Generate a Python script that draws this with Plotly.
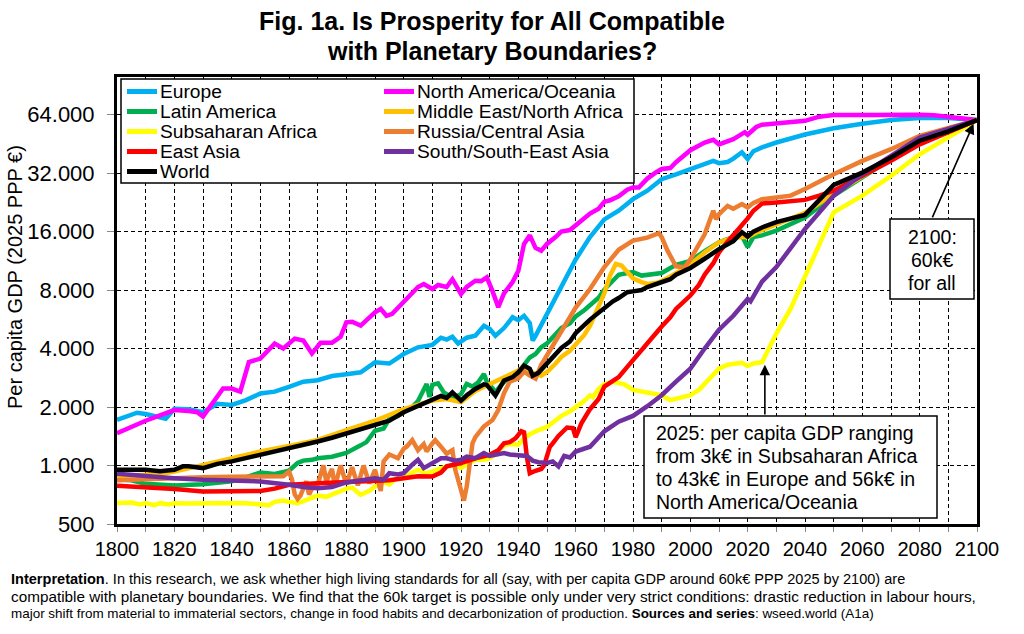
import math
import plotly.graph_objects as go

# ---------------- DATA ----------------
EU_Y = [1800,1805,1807,1810,1814,1817,1820,1825,1830,1835,1840,1845,1850,1855,1860,1865,1870,1875,1880,1885,1890,1895,1900,1905,1910,1913,1915,1917,1919,1920,1922,1925,1928,1930,1932,1935,1938,1940,1942,1944,1945,1946,1948,1950,1955,1960,1965,1970,1975,1980,1985,1990,1995,2000,2005,2008,2010,2013,2015,2018,2020,2022,2025,2030,2040,2050,2060,2070,2080,2090,2100]
EU_V = [1715,1830,1870,1840,1780,1740,1960,1950,1880,2080,2050,2170,2350,2400,2540,2700,2750,2890,2950,3020,3400,3350,3750,4060,4180,4550,4450,4600,4250,4350,4550,4660,5240,5050,4660,5100,5800,5600,5900,5400,4400,4650,5300,6100,8400,11500,15000,18500,20500,23500,26000,29800,31500,33600,35500,37000,36000,36500,38000,41000,37800,41500,43400,46000,50600,54500,57500,60000,61500,61500,60000]

NA_Y = [1800,1805,1810,1815,1820,1825,1828,1830,1833,1837,1840,1843,1846,1850,1855,1858,1862,1865,1868,1871,1875,1878,1880,1882,1885,1887,1890,1892,1894,1896,1900,1903,1905,1907,1910,1912,1915,1917,1919,1920,1922,1925,1927,1929,1931,1933,1935,1938,1940,1942,1944,1946,1948,1950,1953,1955,1958,1960,1963,1965,1968,1970,1972,1975,1978,1980,1982,1985,1988,1990,1993,1995,2000,2005,2008,2010,2015,2019,2020,2023,2025,2030,2040,2045,2050,2060,2070,2080,2085,2090,2100]
NA_V = [1465,1580,1700,1810,1930,1910,1880,1785,2050,2490,2490,2400,3410,3550,4240,4000,4500,4400,3770,4280,4280,4600,5460,5500,5250,5600,6150,6400,5900,6040,7000,7800,8300,8600,8100,8500,8300,9100,8200,7640,8300,8940,8900,9300,7900,6530,7700,8800,10070,13830,15300,13200,12750,13830,15000,16000,16300,17200,18800,19800,21000,22800,23200,24300,26300,27000,27000,30000,32300,33600,34000,36400,42000,46000,47500,45000,47900,52000,50500,55300,56800,57500,59500,62500,63700,63700,64000,64000,63500,62500,60000]

LA_Y = [1800,1805,1810,1820,1830,1840,1845,1850,1855,1860,1863,1865,1868,1870,1875,1880,1885,1887,1890,1893,1895,1898,1900,1903,1905,1907,1908,1909,1910,1912,1914,1916,1918,1920,1922,1924,1926,1928,1929,1931,1932,1934,1936,1938,1940,1942,1944,1946,1948,1950,1953,1955,1958,1960,1963,1965,1968,1970,1973,1975,1978,1980,1983,1985,1990,1995,2000,2005,2010,2015,2018,2020,2022,2025,2030,2040,2050,2060,2070,2080,2090,2100]
LA_V = [850,840,805,790,800,830,870,920,905,940,1030,1060,1070,1090,1110,1160,1270,1320,1510,1550,1740,1800,1880,2000,2150,2480,2630,2250,2600,2650,2380,2280,2250,2330,2630,2550,2680,2960,2700,2500,2380,2600,2800,2960,3020,3330,3600,3750,4060,4250,4700,5100,5400,5850,6300,6700,7300,8050,8900,9600,9800,9900,9500,9600,9800,10800,11300,12700,14100,15000,15200,13300,15000,15300,16200,18900,24500,30400,37800,46000,52500,60000]

ME_Y = [1800,1810,1815,1820,1830,1840,1850,1860,1870,1880,1890,1900,1910,1915,1920,1925,1930,1935,1940,1942,1945,1948,1950,1953,1955,1958,1960,1963,1965,1968,1970,1972,1974,1976,1978,1980,1983,1985,1988,1990,1993,1995,2000,2005,2010,2015,2020,2025,2030,2040,2050,2060,2070,2080,2090,2100]
ME_V = [880,890,905,930,1010,1090,1180,1260,1355,1520,1700,1950,2160,2200,2120,2420,2630,2850,3080,3250,3000,2900,3030,3350,3620,3900,4200,4700,5250,6500,7700,9500,10900,10700,10000,9200,8800,8600,8700,8900,9400,9800,10800,12500,14100,14900,15000,16300,17400,20000,25000,31000,38000,46500,52500,60000]

SSA_Y = [1800,1805,1808,1810,1813,1815,1818,1820,1825,1830,1835,1840,1845,1850,1853,1855,1858,1860,1863,1865,1867,1870,1873,1875,1878,1880,1882,1885,1888,1890,1893,1895,1897,1900,1903,1905,1908,1910,1913,1915,1918,1920,1922,1925,1928,1930,1932,1935,1937,1940,1942,1944,1947,1950,1955,1958,1960,1963,1965,1966,1968,1970,1973,1975,1977,1980,1983,1985,1990,1993,1995,2000,2003,2005,2008,2010,2013,2015,2018,2020,2022,2025,2030,2035,2040,2045,2050,2060,2070,2080,2090,2100]
SSA_V = [641,645,630,640,625,640,630,640,638,642,640,642,640,630,625,650,660,650,640,655,670,700,690,710,740,760,770,707,740,780,820,800,850,860,920,950,910,930,960,990,1000,970,1010,1070,1070,1090,1140,1270,1290,1280,1380,1450,1520,1580,1800,1900,2000,2150,2300,2250,2480,2620,2700,2650,2620,2450,2400,2350,2300,2170,2200,2300,2450,2640,2900,3150,3300,3350,3380,3250,3350,3400,4780,6420,9330,13800,20100,24500,31000,40000,48800,60000]

RU_Y = [1800,1810,1820,1830,1840,1850,1858,1860,1861,1862,1863,1864,1866,1867,1868,1870,1872,1873,1875,1876,1878,1880,1882,1884,1886,1888,1890,1892,1893,1895,1898,1900,1901,1903,1905,1907,1908,1910,1911,1913,1915,1917,1918,1920,1921,1922,1924,1925,1928,1931,1933,1935,1937,1940,1942,1944,1946,1948,1950,1955,1960,1965,1970,1975,1980,1985,1989,1990,1992,1995,1998,2000,2003,2005,2008,2009,2010,2013,2015,2018,2020,2022,2025,2030,2035,2040,2050,2060,2070,2080,2090,2100]
RU_V = [840,850,870,870,875,880,880,930,850,710,673,700,830,710,760,800,1000,830,960,780,1000,800,980,790,1000,810,950,740,1050,1140,1090,1220,1250,1350,1200,1290,1180,1300,1350,1250,1150,1200,950,750,660,780,1300,1400,1590,1715,1930,2360,2700,2810,3050,2900,2800,3300,3700,5000,6500,8100,10500,12900,14400,14900,15700,15000,12800,10600,10500,11500,13800,15500,20500,18500,19700,21700,21000,22200,21300,22500,23500,23900,24500,26500,31600,37000,42500,49800,54600,60000]

EA_Y = [1800,1810,1820,1830,1840,1850,1855,1860,1870,1875,1880,1885,1890,1895,1900,1905,1910,1913,1915,1918,1920,1925,1930,1933,1935,1937,1939,1941,1942,1943,1944,1946,1948,1949,1951,1952,1954,1957,1959,1960,1962,1965,1968,1970,1973,1975,1978,1980,1983,1985,1988,1990,1993,1995,1997,2000,2003,2005,2008,2010,2013,2015,2018,2020,2022,2025,2030,2040,2045,2050,2060,2070,2080,2090,2100]
EA_V = [787,775,757,736,736,740,760,796,810,815,825,820,825,840,860,880,877,920,990,1010,1030,1090,1135,1200,1300,1320,1380,1500,1480,1100,913,940,960,1000,1250,1300,1420,1570,1560,1400,1650,1950,2200,2550,2750,2850,3220,3500,3920,4300,4800,5200,5800,6400,6800,7500,8500,9600,11000,12500,14200,15300,17300,18700,20500,22300,22600,23300,24500,26000,31000,37000,45000,52000,60000]

SA_Y = [1800,1810,1820,1830,1840,1850,1860,1865,1870,1875,1880,1885,1890,1893,1895,1898,1900,1903,1905,1907,1910,1913,1915,1918,1920,1922,1925,1928,1930,1933,1935,1937,1940,1943,1945,1947,1950,1952,1954,1956,1958,1960,1965,1970,1975,1980,1985,1990,1995,2000,2005,2010,2015,2018,2020,2021,2025,2030,2040,2050,2060,2070,2080,2090,2100]
SA_V = [906,880,860,844,838,828,796,775,765,775,818,835,860,845,913,900,913,1010,1070,970,1030,1090,1090,1060,1070,1110,1090,1160,1120,1140,1160,1140,1130,1120,1060,1040,1030,1050,990,1120,1100,1180,1250,1500,1680,1800,2020,2300,2700,3150,4000,5000,5900,6700,7200,7000,8850,10500,16500,24500,31600,39300,48800,54000,60000]

WO_Y = [1800,1805,1810,1815,1820,1823,1825,1830,1835,1840,1845,1850,1855,1860,1865,1870,1875,1880,1885,1890,1895,1900,1905,1910,1913,1915,1917,1920,1922,1925,1928,1929,1932,1935,1938,1940,1942,1944,1945,1947,1950,1953,1955,1958,1960,1965,1970,1973,1975,1978,1980,1983,1985,1988,1990,1993,1995,2000,2005,2008,2010,2015,2018,2020,2022,2025,2030,2040,2045,2050,2060,2070,2080,2090,2100]
WO_V = [950,955,950,935,950,990,990,970,1020,1050,1090,1135,1180,1230,1280,1330,1390,1460,1520,1605,1700,1880,2030,2200,2280,2230,2380,2160,2300,2480,2620,2600,2290,2740,2850,3020,3270,3150,2900,3000,3350,3700,4030,4350,4800,5640,6500,7000,7280,7800,7880,8000,8290,8600,8800,9100,9600,10400,11600,12500,13000,14300,15900,15100,16000,16800,17900,19500,23300,27800,32200,38500,47000,52500,60000]

SERIES_NAMES = ["Europe", "North America/Oceania", "Latin America", "Middle East/North Africa",
                "Subsaharan Africa", "Russia/Central Asia", "East Asia", "South/South-East Asia", "World"]
SERIES_DATA = [(EU_Y, EU_V), (NA_Y, NA_V), (LA_Y, LA_V), (ME_Y, ME_V), (SSA_Y, SSA_V),
               (RU_Y, RU_V), (EA_Y, EA_V), (SA_Y, SA_V), (WO_Y, WO_V)]

Y_TICKS = [500, 1000, 2000, 4000, 8000, 16000, 32000, 64000]
Y_TICK_TEXT = ["500", "1.000", "2.000", "4.000", "8.000", "16.000", "32.000", "64.000"]
X_TICKS = list(range(1800, 2101, 10))
X_TICK_TEXT = [str(v) if v % 20 == 0 else "" for v in X_TICKS]

TITLE_LINES = ["Fig. 1a. Is Prosperity for All Compatible", "with Planetary Boundaries?"]
Y_TITLE = "Per capita GDP (2025 PPP €)"
NOTE_LINES = [
    "<b>Interpretation</b>. In this research, we ask whether high living standards for all (say, with per capita GDP around 60k€ PPP 2025 by 2100) are",
    "compatible with planetary boundaries. We find that the 60k target is possible only under very strict conditions: drastic reduction in labour hours,",
    "major shift from material to immaterial sectors, change in food habits and decarbonization of production. <b>Sources and series</b>: wseed.world (A1a)",
]
BOX1_LINES = ["2100:", "60k€", "for all"]
BOX2_LINES = ["2025: per capita GDP ranging", "from 3k€ in Subsaharan Africa",
              "to 43k€ in Europe and 56k€ in", "North America/Oceania"]

# ---------------- STYLE ----------------
COLORS = {
    "Europe": "#00B0F0", "North America/Oceania": "#FF00FF", "Latin America": "#00B050",
    "Middle East/North Africa": "#FFC000", "Subsaharan Africa": "#FFFF00",
    "Russia/Central Asia": "#ED7D31", "East Asia": "#FF0000",
    "South/South-East Asia": "#7030A0", "World": "#000000",
}
FONT = "Arial, 'Liberation Sans', sans-serif"
W, H = 1024, 634
ML, MR, MT, MB = 117, 47, 77, 110
PW, PH = W - ML - MR, H - MT - MB


def px(x):
    return (x - ML) / PW


def py(y):
    return (H - MB - y) / PH


fig = go.Figure()
for name, (xs, ys) in zip(SERIES_NAMES, SERIES_DATA):
    fig.add_trace(go.Scatter(x=xs, y=ys, mode="lines", name=name,
                             line=dict(color=COLORS[name], width=4.5), showlegend=False))

shapes = []
annotations = []

# legend box (manual, two columns)
shapes.append(dict(type="rect", xref="paper", yref="paper", x0=px(121), x1=px(634),
                   y0=py(183), y1=py(79), fillcolor="white", line=dict(color="black", width=1.5),
                   layer="above"))
left_col = ["Europe", "Latin America", "Subsaharan Africa", "East Asia", "World"]
right_col = ["North America/Oceania", "Middle East/North Africa", "Russia/Central Asia", "South/South-East Asia"]
row_y = [91.5, 111.5, 131.5, 151.5, 171.5]
for col, (sx0, sx1, tx) in [(left_col, (127, 157, 158)), (right_col, (384, 414, 415))]:
    for i, name in enumerate(col):
        shapes.append(dict(type="line", xref="paper", yref="paper", x0=px(sx0), x1=px(sx1),
                           y0=py(row_y[i]), y1=py(row_y[i]),
                           line=dict(color=COLORS[name], width=5), layer="above"))
        annotations.append(dict(xref="paper", yref="paper", x=px(tx), y=py(row_y[i]), text=name,
                                showarrow=False, xanchor="left", yanchor="middle",
                                font=dict(family=FONT, size=19.2, color="black")))

# annotation boxes
shapes.append(dict(type="rect", xref="paper", yref="paper", x0=px(890), x1=px(974),
                   y0=py(299), y1=py(219), fillcolor="white", line=dict(color="black", width=1.5),
                   layer="above"))
for t, yy in zip(BOX1_LINES, [237, 260, 283]):
    annotations.append(dict(xref="paper", yref="paper", x=px(932), y=py(yy), text=t,
                            showarrow=False, xanchor="center", yanchor="middle",
                            font=dict(family=FONT, size=19.5, color="black")))
shapes.append(dict(type="rect", xref="paper", yref="paper", x0=px(644), x1=px(937),
                   y0=py(518), y1=py(416), fillcolor="white", line=dict(color="black", width=1.5),
                   layer="above"))
for t, yy in zip(BOX2_LINES, [433, 456, 479, 502]):
    annotations.append(dict(xref="paper", yref="paper", x=px(654), y=py(yy), text=t,
                            showarrow=False, xanchor="left", yanchor="middle",
                            font=dict(family=FONT, size=19.5, color="black")))

# arrows
for (tx, tv, sx, sv) in [(2026, 3300, 2026, 1800), (2098.8, 57500, 2084.2, 18600)]:
    annotations.append(dict(x=tx, y=math.log10(tv), ax=sx, ay=math.log10(sv), xref="x", yref="y",
                            axref="x", ayref="y", text="", showarrow=True, arrowhead=2,
                            arrowsize=1.3, arrowwidth=1.6, arrowcolor="black",
                            standoff=0, startstandoff=0))

# titles
for t, yy in zip(TITLE_LINES, [21, 51]):
    annotations.append(dict(xref="paper", yref="paper", x=px(492), y=py(yy), text="<b>%s</b>" % t,
                            showarrow=False, xanchor="center", yanchor="middle",
                            font=dict(family=FONT, size=25, color="black")))
annotations.append(dict(xref="paper", yref="paper", x=px(15), y=py(277), text=Y_TITLE,
                        textangle=-90, showarrow=False, xanchor="center", yanchor="middle",
                        font=dict(family=FONT, size=20, color="black")))
for t, yy, fs in zip(NOTE_LINES, [578.5, 596, 613.5], [14.55, 15.3, 13.45]):
    annotations.append(dict(xref="paper", yref="paper", x=px(9), y=py(yy), text=t,
                            showarrow=False, xanchor="left", yanchor="middle",
                            font=dict(family=FONT, size=fs, color="black")))

fig.update_layout(
    width=W, height=H, margin=dict(l=ML, r=MR, t=MT, b=MB),
    paper_bgcolor="white", plot_bgcolor="white",
    shapes=shapes, annotations=annotations, showlegend=False,
    xaxis=dict(range=[1800, 2100], tickmode="array", tickvals=X_TICKS, ticktext=X_TICK_TEXT,
               showgrid=True, gridcolor="black", gridwidth=1.2, griddash="4px,3px",
               showline=True, linecolor="black", linewidth=3, mirror=True,
               ticks="outside", ticklen=5, tickwidth=1, tickcolor="#888",
               tickfont=dict(family=FONT, size=20, color="black"), zeroline=False),
    yaxis=dict(type="log", range=[math.log10(500), math.log10(100000)], tickmode="array",
               tickvals=Y_TICKS, ticktext=Y_TICK_TEXT,
               showgrid=True, gridcolor="black", gridwidth=1.2, griddash="4px,3px",
               showline=True, linecolor="black", linewidth=3, mirror=True,
               ticks="outside", ticklen=7, tickwidth=1, tickcolor="#888",
               tickfont=dict(family=FONT, size=22, color="black"), zeroline=False,
               ticklabelstandoff=8),
)

fig.write_html("out.html")
